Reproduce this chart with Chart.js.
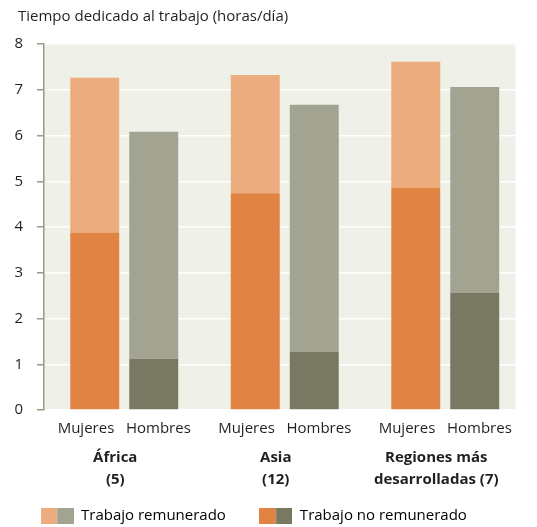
<!DOCTYPE html>
<html lang="es">
<head>
<meta charset="utf-8">
<title>Tiempo dedicado al trabajo</title>
<script src="https://cdn.jsdelivr.net/npm/chart.js@4.4.1/dist/chart.umd.min.js"></script>
<style>
  html, body { margin: 0; padding: 0; background: #ffffff; }
  #wrap { width: 537px; height: 527px; }
</style>
</head>
<body>
<div id="wrap"><canvas id="grafico"></canvas></div>
<script>
"use strict";

// Horas por día, por región (número de países entre paréntesis)
const regiones = [["África", "(5)"], ["Asia", "(12)"], ["Regiones más", "desarrolladas (7)"]];
const sexos = ["Mujeres   Hombres", "Mujeres   Hombres", "Mujeres   Hombres"];
const yTicks = [0, 1, 2, 3, 4, 5, 6, 7, 8];

const mujeresNoRemunerado = [3.88, 4.74, 4.85];
const mujeresRemunerado = [3.38, 2.58, 2.76];
const hombresNoRemunerado = [1.12, 1.27, 2.56];
const hombresRemunerado = [4.96, 5.40, 4.50];

const leyenda = ["Trabajo remunerado", "Trabajo no remunerado"];
const titulo = "Tiempo dedicado al trabajo (horas/día)";

const naranjaClaro = "#ecac7e";
const naranjaOscuro = "#e18342";
const grisClaro = "#a2a390";
const grisOscuro = "#797862";
const fondo = "#eff0e7";
const texto = "#231f20";
const eje = "#9a9a89";

Chart.defaults.font.family = "'Open Sans', sans-serif";
Chart.defaults.font.size = 15;
Chart.defaults.color = texto;

// two-colour legend swatch (women | men)
function muestra(c1, c2) {
  const cv = document.createElement("canvas");
  cv.width = 33;
  cv.height = 16;
  const g = cv.getContext("2d");
  g.fillStyle = c1;
  g.fillRect(0, 0, 16.5, 16);
  g.fillStyle = c2;
  g.fillRect(16.5, 0, 16.5, 16);
  return cv;
}

const fondoPlugin = {
  id: "fondo",
  beforeDraw(chart) {
    const { ctx, chartArea: a } = chart;
    ctx.save();
    ctx.fillStyle = fondo;
    ctx.fillRect(a.left, a.top, a.right - 10 - a.left, a.bottom - a.top);
    ctx.restore();
  },
};

const tituloPlugin = {
  id: "titulo",
  afterDraw(chart) {
    const ctx = chart.ctx;
    ctx.save();
    ctx.font = "15px 'Open Sans', sans-serif";
    ctx.fillStyle = texto;
    ctx.textBaseline = "middle";
    ctx.fillText(titulo, 18, 17);
    ctx.restore();
  },
};

const data = {
  labels: sexos,
  datasets: [
    { label: "Mujeres no remunerado", data: mujeresNoRemunerado, backgroundColor: naranjaOscuro, stack: "M" },
    { label: "Mujeres remunerado", data: mujeresRemunerado, backgroundColor: naranjaClaro, stack: "M" },
    { label: "Hombres no remunerado", data: hombresNoRemunerado, backgroundColor: grisOscuro, stack: "H" },
    { label: "Hombres remunerado", data: hombresRemunerado, backgroundColor: grisClaro, stack: "H" },
  ],
};

const config = {
  type: "bar",
  data: data,
  options: {
    responsive: true,
    maintainAspectRatio: false,
    animation: false,
    categoryPercentage: 0.735,
    barPercentage: 0.83,
    layout: {
      padding: { top: 44, left: 7, right: 11.5, bottom: 0 },
    },
    plugins: {
      tooltip: { enabled: false },
      legend: {
        position: "bottom",
        align: "start",
        maxHeight: 52.5,
        onClick: null,
        labels: {
          usePointStyle: true,
          pointStyleWidth: 33,
          boxHeight: 16,
          padding: 33.5,
          color: texto,
          font: { size: 15 },
          generateLabels: () => [
            { text: leyenda[0], pointStyle: muestra(naranjaClaro, grisClaro), lineWidth: 0, hidden: false, datasetIndex: 1 },
            { text: leyenda[1], pointStyle: muestra(naranjaOscuro, grisOscuro), lineWidth: 0, hidden: false, datasetIndex: 0 },
          ],
        },
      },
    },
    scales: {
      x: {
        stacked: true,
        weight: 0,
        grid: { display: false, drawTicks: false },
        border: { display: false },
        afterFit: (s) => {
          s.height = 28;
        },
        ticks: { padding: 10, maxRotation: 0, autoSkip: false, color: texto },
      },
      x2: {
        type: "category",
        labels: regiones,
        position: "bottom",
        offset: true,
        weight: 1,
        grid: { display: false, drawTicks: false },
        border: { display: false },
        afterFit: (s) => {
          s.height = 36.5;
        },
        ticks: {
          mirror: true,
          padding: -31,
          labelOffset: -9,
          maxRotation: 0,
          autoSkip: false,
          color: texto,
          font: { size: 15, weight: "bold", lineHeight: 1.45 },
        },
      },
      y: {
        stacked: true,
        min: 0,
        max: 8,
        afterBuildTicks: (s) => {
          s.ticks = yTicks.map((v) => ({ value: v }));
        },
        afterFit: (s) => {
          s.width = 37;
        },
        ticks: { padding: 14, color: texto },
        grid: { color: "#ffffff", lineWidth: 1.5, tickColor: eje, tickLength: 7 },
        border: { color: eje, width: 1.5 },
      },
    },
  },
  plugins: [fondoPlugin, tituloPlugin],
};

const grafico = new Chart(document.getElementById("grafico"), config);
</script>
</body>
</html>
